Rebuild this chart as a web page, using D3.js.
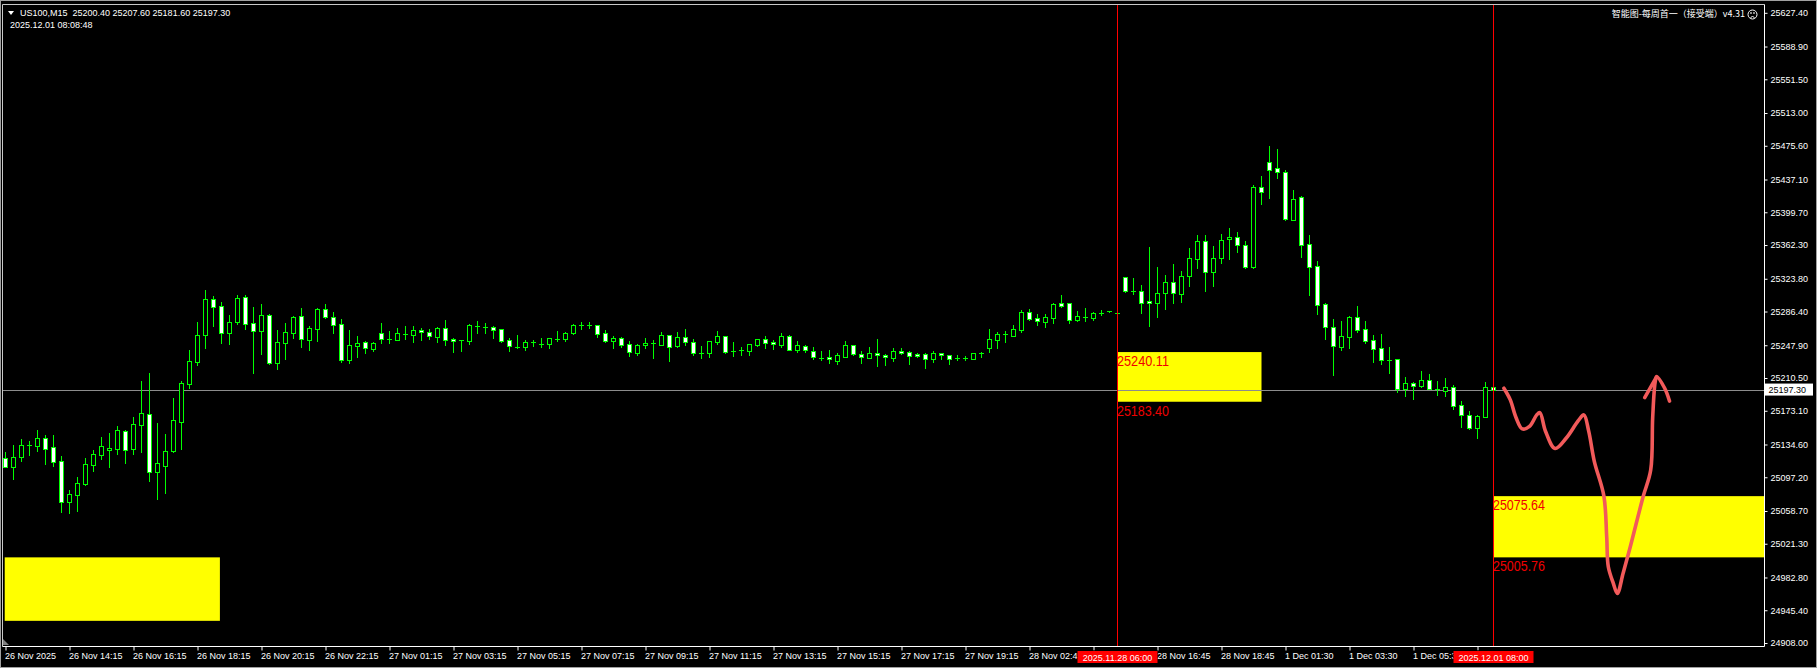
<!DOCTYPE html>
<html>
<head>
<meta charset="utf-8" />
<title>US100,M15</title>
<script src="https://cdn.jsdelivr.net/npm/d3@7"></script>
<style>
    html, body { margin: 0; padding: 0; background: #000; }
    svg { display: block; }
    .axis text { font-family: "Liberation Sans", Arial, sans-serif; font-size: 9px; fill: #fff; }
    .axis line { stroke: #fff; }
    .axis path { display: none; }
</style>
</head>
<body>
<div id="chart"></div>
<script>
// price axis labels
var priceTicks = [25627.40, 25588.90, 25551.50, 25513.00, 25475.60, 25437.10, 25399.70, 25362.30, 25323.80, 25286.40,
    25247.90, 25210.50, 25173.10, 25134.60, 25097.20, 25058.70, 25021.30, 24982.80, 24945.40, 24908.00];

// time axis labels, by bar index ("" = label hidden under a marker box)
var timeLabels = [
    [0, "26 Nov 2025"], [8, "26 Nov 14:15"], [16, "26 Nov 16:15"], [24, "26 Nov 18:15"], [32, "26 Nov 20:15"],
    [40, "26 Nov 22:15"], [48, "27 Nov 01:15"], [56, "27 Nov 03:15"], [64, "27 Nov 05:15"], [72, "27 Nov 07:15"],
    [80, "27 Nov 09:15"], [88, "27 Nov 11:15"], [96, "27 Nov 13:15"], [104, "27 Nov 15:15"], [112, "27 Nov 17:15"],
    [120, "27 Nov 19:15"], [128, "28 Nov 02:45"], [136, ""], [144, "28 Nov 16:45"], [152, "28 Nov 18:45"],
    [160, "1 Dec 01:30"], [168, "1 Dec 03:30"], [176, "1 Dec 05:30"], [184, ""]
];

// M15 bars: open, high, low, close
var ohlc = [
    [25119.5, 25125.6, 25108.5, 25109.2], [25109.2, 25134.0, 25095.1, 25119.9], [25120.6, 25140.8, 25116.1, 25133.6],
    [25133.6, 25138.5, 25122.5, 25134.2], [25133.2, 25151.1, 25127.1, 25141.6], [25141.6, 25145.4, 25112.6, 25129.8],
    [25131.3, 25145.4, 25110.4, 25114.9], [25115.3, 25121.4, 25057.9, 25069.3], [25069.3, 25082.6, 25056.0, 25077.6],
    [25077.3, 25097.4, 25059.0, 25090.2], [25089.8, 25118.7, 25088.0, 25111.9], [25111.5, 25128.2, 25104.3, 25123.3],
    [25122.9, 25143.5, 25118.0, 25132.4], [25128.6, 25147.6, 25109.2, 25130.1], [25129.4, 25156.0, 25124.1, 25150.7],
    [25149.6, 25151.1, 25113.8, 25128.6], [25129.8, 25165.9, 25124.1, 25157.5], [25157.2, 25207.0, 25126.3, 25170.1],
    [25169.0, 25215.8, 25092.9, 25103.5], [25103.5, 25158.7, 25072.3, 25113.0], [25110.4, 25146.5, 25079.5, 25126.7],
    [25127.5, 25187.6, 25126.0, 25162.1], [25160.6, 25207.0, 25129.4, 25204.3], [25204.0, 25242.4, 25199.4, 25229.5],
    [25229.1, 25274.4, 25225.7, 25259.1], [25259.9, 25310.9, 25245.1, 25300.2], [25300.2, 25304.0, 25270.2, 25291.1],
    [25292.2, 25296.8, 25250.8, 25262.2], [25262.2, 25282.3, 25249.6, 25274.0], [25274.4, 25305.2, 25272.5, 25301.4],
    [25302.5, 25305.2, 25266.7, 25272.5], [25272.8, 25291.1, 25216.5, 25264.5], [25264.5, 25294.9, 25238.2, 25282.0],
    [25282.0, 25283.1, 25226.8, 25227.9], [25227.2, 25265.2, 25221.1, 25251.1], [25250.8, 25273.2, 25232.5, 25262.6],
    [25262.2, 25281.2, 25256.5, 25279.7], [25280.8, 25290.3, 25246.2, 25255.3], [25254.2, 25269.8, 25242.8, 25267.1],
    [25266.7, 25290.3, 25253.0, 25288.8], [25288.8, 25294.9, 25278.9, 25279.7], [25279.7, 25285.8, 25262.2, 25270.6],
    [25271.7, 25277.8, 25229.1, 25230.6], [25231.4, 25265.2, 25227.9, 25247.7], [25247.3, 25258.4, 25234.8, 25250.4],
    [25251.1, 25252.7, 25238.6, 25244.3], [25243.9, 25251.5, 25241.6, 25250.4], [25261.4, 25273.2, 25250.0, 25254.6],
    [25254.6, 25264.5, 25250.8, 25254.8], [25254.2, 25267.5, 25253.8, 25261.8], [25261.0, 25269.8, 25255.3, 25261.2],
    [25259.9, 25269.8, 25251.9, 25264.8], [25264.8, 25267.1, 25253.8, 25262.6], [25262.6, 25266.0, 25255.3, 25258.0],
    [25257.6, 25269.0, 25251.9, 25267.1], [25267.1, 25276.6, 25248.5, 25254.2], [25254.6, 25255.7, 25240.5, 25252.3],
    [25253.4, 25253.8, 25241.6, 25253.6], [25253.0, 25272.5, 25249.6, 25270.9], [25270.2, 25275.5, 25262.2, 25270.4],
    [25269.0, 25273.2, 25262.2, 25269.2], [25268.3, 25269.8, 25256.5, 25264.8], [25266.0, 25266.7, 25251.9, 25253.0],
    [25253.4, 25256.1, 25241.6, 25246.6], [25246.2, 25259.5, 25244.3, 25246.4], [25246.2, 25253.8, 25242.4, 25251.5],
    [25251.1, 25253.8, 25247.3, 25251.3], [25249.6, 25256.1, 25246.2, 25249.8], [25248.9, 25256.1, 25245.1, 25255.7],
    [25255.3, 25264.1, 25252.7, 25255.5], [25255.3, 25263.3, 25252.7, 25261.8], [25261.8, 25272.5, 25260.3, 25270.9],
    [25270.6, 25274.0, 25266.8, 25270.8], [25271.3, 25274.4, 25267.9, 25271.5], [25270.6, 25271.0, 25257.6, 25261.0],
    [25261.4, 25264.9, 25251.5, 25253.0], [25253.0, 25258.4, 25245.1, 25255.7], [25255.7, 25257.6, 25246.2, 25248.5],
    [25248.9, 25252.7, 25235.9, 25239.7], [25239.4, 25249.6, 25237.1, 25247.7], [25247.7, 25255.7, 25245.1, 25250.4],
    [25250.0, 25253.4, 25233.6, 25250.2], [25248.5, 25262.9, 25247.7, 25259.1], [25259.1, 25259.5, 25230.2, 25246.2],
    [25247.3, 25262.9, 25246.2, 25256.9], [25256.9, 25266.4, 25248.5, 25251.1], [25251.1, 25255.0, 25237.1, 25238.6],
    [25239.0, 25247.0, 25233.3, 25239.2], [25238.6, 25252.5, 25234.8, 25252.3], [25251.5, 25264.1, 25249.6, 25258.4],
    [25258.0, 25258.3, 25239.0, 25240.1], [25240.9, 25251.5, 25235.9, 25241.1], [25242.0, 25245.8, 25237.1, 25242.2],
    [25241.6, 25249.1, 25237.1, 25248.9], [25248.5, 25255.2, 25247.3, 25255.0], [25254.6, 25258.0, 25244.7, 25250.0],
    [25251.1, 25253.4, 25243.9, 25248.9], [25248.5, 25261.8, 25245.4, 25258.0], [25258.0, 25259.1, 25242.4, 25242.8],
    [25242.8, 25252.7, 25240.1, 25247.7], [25247.3, 25248.1, 25240.5, 25242.0], [25240.9, 25245.4, 25231.8, 25234.8],
    [25233.7, 25241.3, 25231.0, 25233.9], [25234.0, 25242.4, 25228.0, 25231.8], [25230.2, 25239.0, 25226.8, 25236.3],
    [25234.8, 25252.7, 25234.5, 25247.7], [25247.7, 25248.0, 25236.3, 25237.5], [25237.5, 25240.9, 25228.0, 25234.0],
    [25233.7, 25245.8, 25233.4, 25238.6], [25238.6, 25255.0, 25224.5, 25236.3], [25236.3, 25237.5, 25225.7, 25234.0],
    [25233.7, 25244.3, 25230.2, 25240.9], [25241.6, 25244.3, 25237.8, 25239.4], [25239.7, 25240.9, 25226.8, 25235.2],
    [25237.5, 25239.0, 25234.0, 25235.2], [25237.5, 25239.0, 25222.2, 25232.5], [25232.1, 25241.3, 25229.1, 25238.6],
    [25238.6, 25238.9, 25232.5, 25236.3], [25236.3, 25236.6, 25226.8, 25232.5], [25233.7, 25236.7, 25231.0, 25233.9],
    [25233.7, 25235.9, 25231.4, 25233.5], [25232.5, 25239.3, 25232.1, 25239.0], [25239.0, 25240.5, 25234.8, 25239.2],
    [25245.1, 25266.4, 25240.1, 25254.6], [25253.8, 25263.3, 25244.3, 25260.3], [25260.7, 25263.7, 25251.1, 25260.9],
    [25258.4, 25270.9, 25258.1, 25266.0], [25265.2, 25288.1, 25262.9, 25285.8], [25285.8, 25289.2, 25276.3, 25277.8],
    [25278.5, 25283.5, 25270.9, 25275.9], [25274.4, 25283.5, 25268.7, 25279.7], [25278.9, 25296.4, 25273.2, 25294.9],
    [25295.7, 25305.6, 25291.1, 25293.0], [25295.7, 25296.0, 25273.2, 25277.0], [25277.0, 25286.9, 25275.5, 25280.8],
    [25280.5, 25290.3, 25275.5, 25280.7], [25278.9, 25285.4, 25277.0, 25284.3], [25285.0, 25288.1, 25282.0, 25285.2],
    [25286.5, 25286.6, 25286.4, 25286.5], [25284.3, 25284.4, 25284.2, 25284.3], [25325.3, 25325.6, 25309.0, 25309.3],
    [25310.1, 25324.6, 25306.3, 25310.3], [25309.3, 25316.2, 25285.0, 25295.7], [25297.9, 25360.0, 25270.2, 25295.7],
    [25295.7, 25337.1, 25280.4, 25307.1], [25307.8, 25328.0, 25289.6, 25319.6], [25319.6, 25340.6, 25296.0, 25307.1],
    [25305.9, 25332.6, 25297.6, 25326.5], [25326.5, 25358.8, 25315.4, 25347.0], [25345.9, 25373.7, 25336.4, 25366.4],
    [25366.4, 25373.7, 25310.1, 25331.0], [25331.0, 25361.1, 25315.8, 25347.0], [25347.0, 25374.8, 25341.7, 25367.6],
    [25368.7, 25381.7, 25346.3, 25371.8], [25371.8, 25376.7, 25354.3, 25361.9], [25361.9, 25367.2, 25336.4, 25337.5],
    [25337.5, 25430.7, 25336.4, 25428.1], [25428.1, 25441.0, 25409.0, 25422.4], [25456.6, 25475.3, 25416.3, 25448.2],
    [25449.8, 25471.8, 25439.1, 25445.2], [25445.2, 25447.9, 25390.8, 25392.3], [25391.2, 25425.0, 25390.8, 25414.4],
    [25416.7, 25418.2, 25348.9, 25362.6], [25363.0, 25373.3, 25305.2, 25337.5], [25337.9, 25344.0, 25283.8, 25294.1],
    [25294.5, 25296.0, 25255.0, 25269.0], [25268.3, 25277.8, 25214.2, 25247.3], [25246.2, 25275.5, 25242.4, 25258.0],
    [25257.6, 25281.6, 25245.1, 25280.1], [25280.1, 25292.6, 25262.9, 25265.6], [25266.0, 25275.5, 25250.0, 25253.0],
    [25253.8, 25259.5, 25229.1, 25243.9], [25244.7, 25260.7, 25226.8, 25231.4], [25231.0, 25245.8, 25216.1, 25231.2],
    [25232.1, 25232.4, 25194.4, 25198.3], [25198.3, 25211.6, 25189.9, 25204.3], [25204.3, 25206.2, 25186.8, 25201.7],
    [25201.7, 25218.4, 25200.5, 25208.1], [25208.1, 25215.0, 25198.0, 25198.3], [25198.3, 25206.6, 25191.0, 25198.5],
    [25195.9, 25210.4, 25190.3, 25199.8], [25199.8, 25202.4, 25175.4, 25178.8], [25179.2, 25184.2, 25154.8, 25168.6],
    [25167.8, 25172.4, 25152.6, 25153.3], [25153.3, 25168.2, 25142.3, 25167.0], [25166.3, 25205.5, 25165.5, 25200.5],
    [25200.4, 25201.2, 25196.5, 25197.3]
];

var symbol = "US100,M15";
var lastQuote = [25200.40, 25207.60, 25181.60, 25197.30];
var serverTime = "2025.12.01 08:08:48";
var indicatorName = "智能图-每周首一（接受端）v4.31";
var bidPrice = 25197.30;

// rectangles: start bar, end bar (null = right edge), top price, bottom price
var zoneFrom = [-0.1, 139, 186];
var zoneTo = [26.8, 157, null];
var zoneTop = [25005.76, 25240.11, 25075.64];
var zoneBottom = [24933.3, 25183.40, 25005.76];
var zoneLabelled = [false, true, true];

// vertical lines
var markerBars = [139, 186];
var markerLabels = ["2025.11.28 06:00", "2025.12.01 08:00"];

// hand drawn forecast (bar index, price)
var sketch = [
    [187.3, 25198.8], [188.1, 25185.5], [188.8, 25165.7], [189.6, 25152.4], [190.5, 25155.2], [191.4, 25168.4],
    [191.8, 25171.0], [192.5, 25149.8], [193.7, 25130.0], [195.1, 25142.0], [196.6, 25161.8], [197.3, 25168.4],
    [197.9, 25149.8], [198.6, 25115.4], [199.8, 25075.7], [200.15, 25029.3], [200.35, 24995.0], [200.98, 24976.1],
    [201.48, 24964.7], [202.2, 24987.5], [203.1, 25017.9], [204.7, 25074.9], [205.65, 25105.4], [205.9, 25165.7],
    [206.2, 25205.4], [206.4, 25212.0], [207.4, 25198.8], [208.0, 25184.2]
];
var sketchArm = [[204.9, 25188.2], [206.4, 25212.0]];

var W = 1817, H = 668;
var plotRight = 1764.5, plotBottom = 646.5, plotTop = 4.5, plotLeft = 2.5;

var svg = d3.select("#chart").append("svg")
    .attr("width", W)
    .attr("height", H);

svg.append("rect").attr("width", W).attr("height", H).attr("fill", "#000");

var x = d3.scaleLinear().domain([0, 186]).range([5.5, 1493.5]);
var y = d3.scaleLinear().domain([24908, 25627.4]).range([643, 12.8]);

// zones
zoneFrom.forEach(function (f, i) {
    var x0 = x(f), x1 = zoneTo[i] === null ? plotRight : x(zoneTo[i]);
    svg.append("rect")
        .attr("x", x0).attr("y", y(zoneTop[i]))
        .attr("width", x1 - x0).attr("height", y(zoneBottom[i]) - y(zoneTop[i]))
        .attr("fill", "#ffff00");
});

// bid line
svg.append("line")
    .attr("x1", plotLeft).attr("x2", plotRight)
    .attr("y1", Math.round(y(bidPrice)) + 0.5).attr("y2", Math.round(y(bidPrice)) + 0.5)
    .attr("stroke", "#8c8c8c");

// candles
var candles = svg.append("g").attr("shape-rendering", "crispEdges");
ohlc.forEach(function (d, i) {
    var cx = x(i);
    var o = d[0], h = d[1], l = d[2], c = d[3];
    candles.append("line")
        .attr("x1", cx).attr("x2", cx)
        .attr("y1", Math.round(y(h))).attr("y2", Math.round(y(l)) + 1)
        .attr("stroke", "#00ff00");
    var top = Math.round(y(Math.max(o, c))), bot = Math.round(y(Math.min(o, c)));
    if (bot - top < 1) {
        candles.append("line")
            .attr("x1", cx - 2.5).attr("x2", cx + 2.5)
            .attr("y1", top + 0.5).attr("y2", top + 0.5)
            .attr("stroke", "#00ff00");
    } else {
        candles.append("rect")
            .attr("x", cx - 2).attr("y", top + 0.5)
            .attr("width", 4).attr("height", bot - top)
            .attr("fill", c < o ? "#ffffff" : "#000000")
            .attr("stroke", "#00ff00");
    }
});

// vertical marker lines
markerBars.forEach(function (b) {
    svg.append("line")
        .attr("x1", x(b)).attr("x2", x(b))
        .attr("y1", plotTop).attr("y2", plotBottom)
        .attr("stroke", "#ff0000");
});

// zone price labels
zoneFrom.forEach(function (f, i) {
    if (!zoneLabelled[i]) return;
    var lx = x(f) - 0.5;
    [[zoneTop[i], y(zoneTop[i]) + 14], [zoneBottom[i], y(zoneBottom[i]) + 14]].forEach(function (p) {
        svg.append("text")
            .attr("x", lx).attr("y", p[1])
            .attr("font-family", "Liberation Sans, Arial, sans-serif")
            .attr("font-size", 14)
            .attr("textLength", 52).attr("lengthAdjust", "spacingAndGlyphs")
            .attr("fill", "#f00000")
            .text(p[0].toFixed(2));
    });
});

// frame
svg.append("rect").attr("x", 0.5).attr("y", 0.5).attr("width", W - 1).attr("height", H - 1)
    .attr("fill", "none").attr("stroke", "#a0a0a0");
svg.append("path")
    .attr("d", "M" + plotLeft + "," + plotBottom + "V" + plotTop + "H" + plotRight)
    .attr("fill", "none").attr("stroke", "#c8c8c8");
svg.append("path")
    .attr("d", "M" + plotLeft + "," + plotBottom + "H" + plotRight + "V" + plotTop)
    .attr("fill", "none").attr("stroke", "#ffffff");
svg.append("path")
    .attr("d", "M3,639L9,645L3,645Z").attr("fill", "#808080");

// axes
var yAxis = d3.axisRight(y).tickValues(priceTicks).tickFormat(d3.format(".2f")).tickSize(3).tickPadding(3);
svg.append("g").attr("class", "axis")
    .attr("transform", "translate(" + plotRight + ",0)")
    .call(yAxis);

// time labels are cut off where a marker box starts (clip is in the axis group's space)
var clip = svg.append("defs").append("clipPath").attr("id", "timeClip");
clip.append("rect").attr("x", 0).attr("y", -2).attr("width", W).attr("height", 6);
var edges = [0];
markerBars.forEach(function (b) { edges.push(x(b) - 40, x(b) + 40); });
edges.push(W);
for (var k = 0; k < edges.length; k += 2) {
    clip.append("rect").attr("x", edges[k]).attr("y", -2)
        .attr("width", edges[k + 1] - edges[k]).attr("height", 26);
}

var labelMap = new Map(timeLabels);
var xAxis = d3.axisBottom(x).tickValues(timeLabels.map(function (d) { return d[0]; }))
    .tickFormat(function (d) { return labelMap.get(d); }).tickSize(4).tickPadding(2);
var gx = svg.append("g").attr("class", "axis")
    .attr("transform", "translate(0," + plotBottom + ")")
    .attr("clip-path", "url(#timeClip)")
    .call(xAxis);
gx.selectAll("text").attr("text-anchor", "start").attr("x", -1);

// marker date boxes
markerBars.forEach(function (b, i) {
    svg.append("rect")
        .attr("x", x(b) - 40).attr("y", 651)
        .attr("width", 80).attr("height", 12)
        .attr("fill", "#ff0000");
    svg.append("text")
        .attr("x", x(b)).attr("y", 660.5)
        .attr("text-anchor", "middle")
        .attr("font-family", "Liberation Sans, Arial, sans-serif")
        .attr("font-size", 9)
        .attr("fill", "#ffffff")
        .text(markerLabels[i]);
});

// bid label
svg.append("rect")
    .attr("x", plotRight + 0.5).attr("y", y(bidPrice) - 6)
    .attr("width", 48).attr("height", 12)
    .attr("fill", "#ffffff");
svg.append("text")
    .attr("x", plotRight + 4).attr("y", y(bidPrice) + 3.2)
    .attr("font-family", "Liberation Sans, Arial, sans-serif")
    .attr("font-size", 9)
    .attr("fill", "#000")
    .text(bidPrice.toFixed(2));

// hand drawn forecast
var line = d3.line()
    .x(function (d) { return x(d[0]); })
    .y(function (d) { return y(d[1]); })
    .curve(d3.curveCatmullRom);
svg.append("path").attr("d", line(sketch))
    .attr("fill", "none").attr("stroke", "#f25a5a")
    .attr("stroke-width", 3.6).attr("stroke-linecap", "round").attr("stroke-linejoin", "round");
svg.append("path").attr("d", line(sketchArm))
    .attr("fill", "none").attr("stroke", "#f25a5a")
    .attr("stroke-width", 3.6).attr("stroke-linecap", "round");

// header
svg.append("path").attr("d", "M8,11H14L11,15Z").attr("fill", "#fff");
svg.append("text")
    .attr("x", 20).attr("y", 16)
    .attr("font-family", "Liberation Sans, Arial, sans-serif")
    .attr("font-size", 9)
    .attr("fill", "#fff")
    .attr("xml:space", "preserve")
    .style("white-space", "pre")
    .text(symbol + "  " + lastQuote.map(function (v) { return v.toFixed(2); }).join(" "));
svg.append("text")
    .attr("x", 10).attr("y", 28)
    .attr("font-family", "Liberation Sans, Arial, sans-serif")
    .attr("font-size", 9)
    .attr("fill", "#fff")
    .text(serverTime);

svg.append("text")
    .attr("x", 1745).attr("y", 17)
    .attr("text-anchor", "end")
    .attr("font-family", "Noto Sans CJK SC, sans-serif")
    .attr("font-size", 9)
    .attr("fill", "#fff")
    .text(indicatorName);

// sad face
var face = svg.append("g").attr("fill", "none").attr("stroke", "#fff");
face.append("circle").attr("cx", 1752.5).attr("cy", 14.5).attr("r", 4.5);
face.append("path").attr("d", "M1750.5,17.5Q1752.5,15.5 1754.5,17.5");
face.append("circle").attr("cx", 1751).attr("cy", 13).attr("r", 0.4).attr("fill", "#fff");
face.append("circle").attr("cx", 1754).attr("cy", 13).attr("r", 0.4).attr("fill", "#fff");
</script>
</body>
</html>
